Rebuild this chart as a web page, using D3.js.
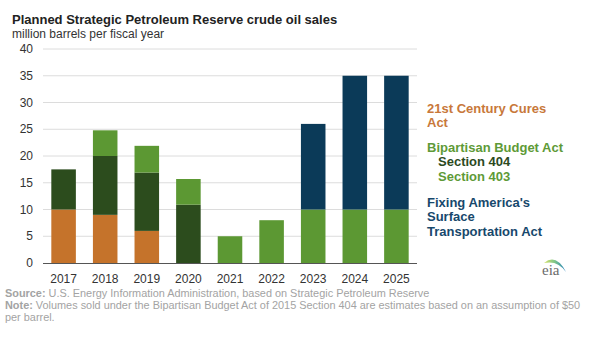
<!DOCTYPE html>
<html>
<head>
<meta charset="utf-8">
<script src="https://cdn.jsdelivr.net/npm/d3@7"></script>
<style>
  body { margin: 0; background: #fff; }
  svg { font-family: "Liberation Sans", Arial, sans-serif; }
</style>
</head>
<body>
<svg id="chart" width="593" height="345"></svg>
<script>
// data, million barrels per fiscal year
const years = ["2017", "2018", "2019", "2020", "2021", "2022", "2023", "2024", "2025"];
const curesAct = [10, 9, 6, 0, 0, 0, 0, 0, 0];
const section404 = [7.5, 11, 10.9, 10.9, 0, 0, 0, 0, 0];
const section403 = [0, 4.8, 5, 4.8, 5, 8, 10, 10, 10];
const fastAct = [0, 0, 0, 0, 0, 0, 16, 25, 25];
const yTicks = [0, 5, 10, 15, 20, 25, 30, 35, 40];

const seriesKeys = ["cures", "s404", "s403", "fast"];
const colors = {cures: "#c5732b", s404: "#2c4c1d", s403: "#5c9833", fast: "#0b3a58"};

const rows = years.map((y, i) => ({
  year: y, cures: curesAct[i], s404: section404[i], s403: section403[i], fast: fastAct[i]
}));

const svg = d3.select("#chart");
const plotLeft = 43, plotRight = 417, plotTop = 49, plotBottom = 263;

const x = d3.scaleBand().domain(years).range([plotLeft, plotRight]).paddingInner(0.41).paddingOuter(0.2);
const y = d3.scaleLinear().domain([0, 40]).range([plotBottom, plotTop]);

// title
svg.append("text").attr("x", 12).attr("y", 23.5)
  .style("font-size", "13px").style("font-weight", "bold").attr("fill", "#222")
  .text("Planned Strategic Petroleum Reserve crude oil sales");
svg.append("text").attr("x", 12).attr("y", 37.5)
  .style("font-size", "12px").attr("fill", "#333")
  .text("million barrels per fiscal year");

// grid
svg.append("g").selectAll("line")
  .data(yTicks.filter(d => d > 0))
  .enter().append("line")
  .attr("x1", plotLeft).attr("x2", plotRight)
  .attr("y1", d => y(d)).attr("y2", d => y(d))
  .attr("stroke", "#dcdcdc").attr("stroke-width", 1);

// y labels
svg.append("g").selectAll("text")
  .data(yTicks)
  .enter().append("text")
  .attr("x", 33).attr("y", d => y(d)).attr("dy", "0.35em")
  .attr("text-anchor", "end")
  .style("font-size", "12px").attr("fill", "#333")
  .text(d => d);

// bars
const stacked = d3.stack().keys(seriesKeys)(rows);
svg.append("g").selectAll("g")
  .data(stacked)
  .enter().append("g")
  .attr("fill", d => colors[d.key])
  .selectAll("rect")
  .data(d => d.filter(p => p[1] - p[0] > 0))
  .enter().append("rect")
  .attr("x", d => x(d.data.year))
  .attr("width", x.bandwidth())
  .attr("y", d => y(d[1]))
  .attr("height", d => y(d[0]) - y(d[1]));

// x axis
svg.append("line").attr("x1", plotLeft).attr("x2", plotRight)
  .attr("y1", plotBottom + 0.5).attr("y2", plotBottom + 0.5)
  .attr("stroke", "#555").attr("stroke-width", 1.2);
svg.append("g").selectAll("text")
  .data(years)
  .enter().append("text")
  .attr("x", d => x(d) + x.bandwidth() / 2).attr("y", 283)
  .attr("text-anchor", "middle")
  .style("font-size", "12px").attr("fill", "#333")
  .text(d => d);

// legend
const legend = [
  {t: "21st Century Cures", c: "#c8783a", x: 427, y: 113},
  {t: "Act", c: "#c8783a", x: 427, y: 127},
  {t: "Bipartisan Budget Act", c: "#5e9a37", x: 427, y: 152},
  {t: "Section 404", c: "#2c4a1e", x: 438, y: 166},
  {t: "Section 403", c: "#5e9a37", x: 438, y: 181},
  {t: "Fixing America's", c: "#17486c", x: 427, y: 207},
  {t: "Surface", c: "#17486c", x: 427, y: 221},
  {t: "Transportation Act", c: "#17486c", x: 427, y: 236}
];
svg.append("g").selectAll("text")
  .data(legend)
  .enter().append("text")
  .attr("x", d => d.x).attr("y", d => d.y)
  .style("font-size", "13px").style("font-weight", "bold")
  .attr("fill", d => d.c)
  .text(d => d.t);

// footer
const foot = svg.append("g").style("font-size", "10.9px").attr("fill", "#a3a3a3");
const src = foot.append("text").attr("x", 5).attr("y", 297);
src.append("tspan").style("font-weight", "bold").text("Source:");
src.append("tspan").text(" U.S. Energy Information Administration, based on Strategic Petroleum Reserve");
const note = foot.append("text").attr("x", 5).attr("y", 309);
note.append("tspan").style("font-weight", "bold").text("Note:");
note.append("tspan").text(" Volumes sold under the Bipartisan Budget Act of 2015 Section 404 are estimates based on an assumption of $50");
foot.append("text").attr("x", 5).attr("y", 320.5).text("per barrel.");

// eia logo
const defs = svg.append("defs");
const grad = defs.append("linearGradient").attr("id", "swoosh");
grad.append("stop").attr("offset", "0%").attr("stop-color", "#d9e36a");
grad.append("stop").attr("offset", "50%").attr("stop-color", "#7cc48a");
grad.append("stop").attr("offset", "100%").attr("stop-color", "#1f7fbf");
svg.append("path")
  .attr("d", "M544,263 Q556,253 566,272 Q558,260 544,263 Z")
  .attr("fill", "url(#swoosh)");
svg.append("text").attr("x", 542).attr("y", 275)
  .style("font-family", "'Liberation Serif', serif").style("font-size", "15px")
  .attr("fill", "#6a6a6a").text("eia");
</script>
</body>
</html>
